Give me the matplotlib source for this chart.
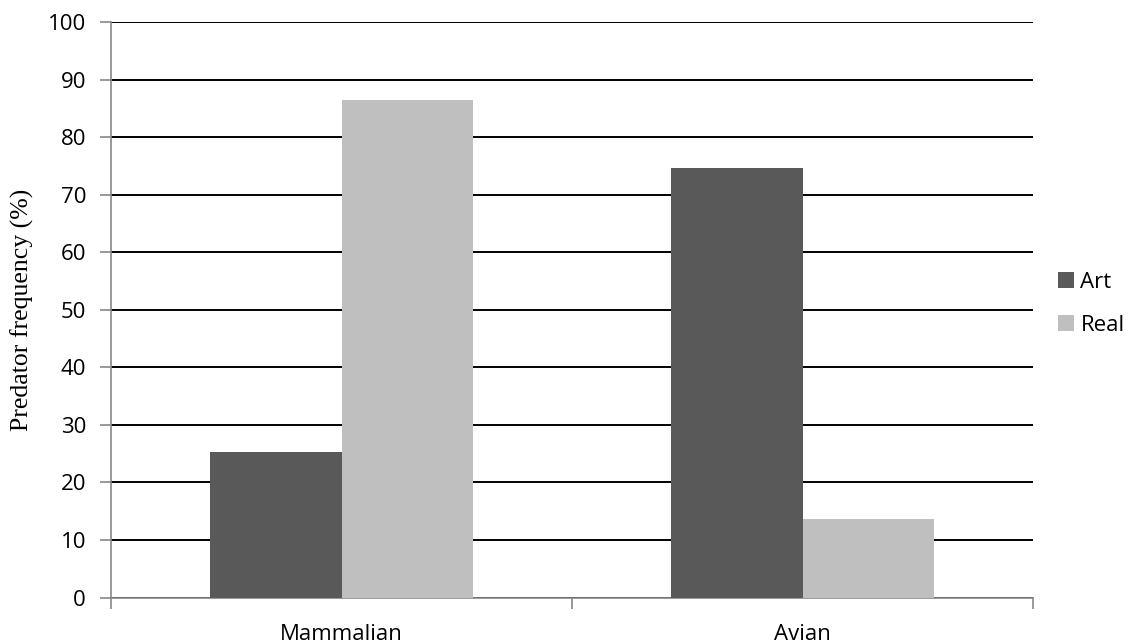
import matplotlib.pyplot as plt
import numpy as np

# data
categories = ["Mammalian", "Avian"]
art = [25.3, 74.7]
real = [86.4, 13.6]

fig = plt.figure(figsize=(11.31, 6.44), dpi=100)
ax = fig.add_axes([111 / 1131, 46.5 / 644, 922 / 1131, 575.5 / 644])

x = np.arange(len(categories))
w = 2 / 7
ax.bar(x - w / 2, art, width=w, color="#595959", label="Art", zorder=3)
ax.bar(x + w / 2, real, width=w, color="#bfbfbf", label="Real", zorder=3)

ax.set_xlim(-0.5, 1.5)
ax.set_ylim(0, 100)
ax.set_yticks(range(0, 101, 10))
ax.yaxis.grid(True, color="black", linewidth=1.4, zorder=0)

# category boundaries get the ticks, names sit in the middle
ax.set_xticks([-0.5, 0.5, 1.5])
ax.set_xticklabels([])
ax.set_xticks(x, minor=True)
ax.set_xticklabels(categories, minor=True)
ax.tick_params(axis="x", which="minor", length=0, pad=19)
ax.tick_params(axis="x", which="major", length=8, color="#888888", width=1.2)
ax.tick_params(axis="y", length=8, color="#888888", width=1.2, pad=10)

for lab in ax.get_yticklabels() + ax.get_xticklabels(minor=True):
    lab.set_fontfamily("Open Sans")
    lab.set_fontsize(16)

for s in ["top", "right"]:
    ax.spines[s].set_visible(False)
for s in ["left", "bottom"]:
    ax.spines[s].set_color("#888888")
    ax.spines[s].set_linewidth(1.2)

ax.set_ylabel("Predator frequency (%)", family="Liberation Serif", fontsize=18.5)
ax.yaxis.set_label_coords(-77 / 922, 0.5)

leg = ax.legend(loc="center left", bbox_to_anchor=(1.005, 0.51), frameon=False,
                handlelength=0.73, handleheight=0.73, handletextpad=0.3,
                labelspacing=1.0, prop={"family": "Open Sans", "size": 16})

fig.savefig("out.png", dpi=100)
